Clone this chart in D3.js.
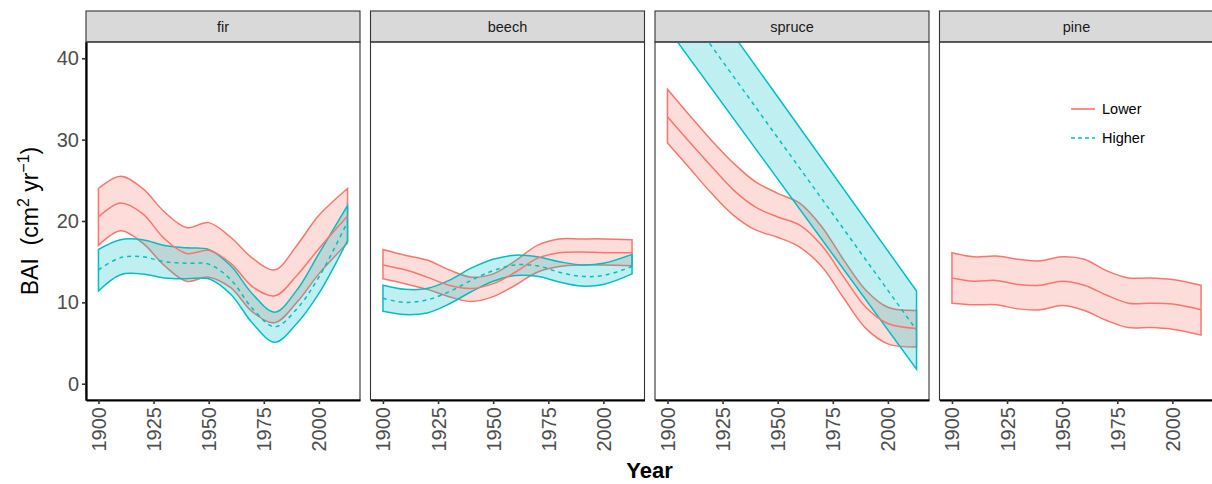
<!DOCTYPE html>
<html><head><meta charset="utf-8">
<script src="https://cdn.jsdelivr.net/npm/d3@7"></script>
<style>
html,body{margin:0;padding:0;background:#fff;}
svg{display:block;font-family:"Liberation Sans",Arial,Helvetica,sans-serif;}
</style></head>
<body>
<svg id="chart" width="1212" height="484"></svg>
<script>
// ---------------- DATA ----------------
const species = ["fir", "beech", "spruce", "pine"];
const groups = ["Lower", "Higher"];
const years = [1900, 1910, 1920, 1930, 1940, 1950, 1960, 1970, 1980, 1990, 2000, 2013];
const yTicks = [0, 10, 20, 30, 40];
const xTicks = [1900, 1925, 1950, 1975, 2000];

// fir
const firLowerMean  = [20.5, 22.2, 20.9, 17.8, 16.0, 16.4, 14.8, 11.9, 10.8, 13.3, 16.6, 20.6];
const firLowerHi    = [24.0, 25.5, 24.0, 21.1, 19.2, 19.8, 18.0, 15.4, 14.0, 17.0, 20.7, 24.0];
const firLowerLo    = [17.0, 18.8, 17.3, 14.5, 12.6, 13.1, 11.8, 8.8, 7.5, 10.0, 13.5, 17.3];
const firHigherMean = [14.0, 15.5, 15.6, 15.0, 14.8, 14.7, 12.8, 9.2, 7.0, 9.2, 13.1, 19.9];
const firHigherHi   = [16.5, 17.7, 17.7, 17.0, 16.7, 16.5, 14.5, 11.0, 8.8, 11.5, 16.0, 21.9];
const firHigherLo   = [11.4, 13.4, 13.5, 13.0, 12.9, 12.9, 11.0, 7.4, 5.1, 7.4, 11.1, 17.6];
// beech
const beechLowerMean  = [14.6, 14.0, 13.1, 12.1, 11.7, 12.3, 13.7, 15.4, 16.1, 16.2, 16.1, 16.1];
const beechLowerHi    = [16.5, 15.8, 15.2, 14.0, 13.1, 13.5, 15.1, 17.0, 17.8, 17.8, 17.8, 17.7];
const beechLowerLo    = [12.9, 12.3, 11.6, 10.7, 10.1, 10.7, 12.1, 13.7, 14.4, 14.6, 14.6, 14.5];
const beechHigherMean = [10.5, 10.0, 10.3, 11.3, 12.7, 13.9, 14.6, 14.5, 13.7, 13.2, 13.3, 14.4];
const beechHigherHi   = [12.1, 11.6, 11.7, 12.7, 14.2, 15.3, 15.8, 15.6, 15.0, 14.6, 14.8, 15.9];
const beechHigherLo   = [8.9, 8.5, 8.7, 9.8, 11.3, 12.6, 13.3, 13.2, 12.5, 12.0, 12.2, 13.5];
// spruce
const spruceLowerMean = [32.8, 29.7, 26.7, 23.8, 21.7, 20.5, 19.5, 17.0, 13.1, 9.4, 7.4, 6.8];
const spruceLowerHi   = [36.2, 33.0, 29.9, 27.1, 24.8, 23.4, 22.2, 19.3, 15.2, 11.5, 9.4, 9.0];
const spruceLowerLo   = [29.6, 26.5, 23.4, 20.7, 18.9, 18.0, 16.8, 14.4, 10.5, 6.8, 4.9, 4.5];
const spruceHigherYears = [1900, 2013];
const spruceHigherMean  = [49.0, 6.6];
const spruceHigherHi    = [54.2, 11.4];
const spruceHigherLo    = [43.7, 1.8];
// pine
const pineLowerMean = [13.0, 12.6, 12.7, 12.2, 12.1, 12.6, 12.1, 10.9, 9.9, 9.9, 9.8, 9.1];
const pineLowerHi   = [16.1, 15.6, 15.7, 15.3, 15.1, 15.6, 15.3, 13.9, 13.0, 13.0, 12.8, 12.1];
const pineLowerLo   = [9.9, 9.7, 9.7, 9.2, 9.1, 9.6, 9.0, 7.8, 6.9, 6.9, 6.7, 6.0];

function series(yrs, mean, hi, lo) {
  return yrs.map((y, i) => ({year: y, mean: mean[i], hi: hi[i], lo: lo[i]}));
}
const panelData = {
  fir:    {Lower: series(years, firLowerMean, firLowerHi, firLowerLo),
           Higher: series(years, firHigherMean, firHigherHi, firHigherLo)},
  beech:  {Lower: series(years, beechLowerMean, beechLowerHi, beechLowerLo),
           Higher: series(years, beechHigherMean, beechHigherHi, beechHigherLo)},
  spruce: {Lower: series(years, spruceLowerMean, spruceLowerHi, spruceLowerLo),
           Higher: series(spruceHigherYears, spruceHigherMean, spruceHigherHi, spruceHigherLo)},
  pine:   {Lower: series(years, pineLowerMean, pineLowerHi, pineLowerLo)}
};

// ---------------- LAYOUT ----------------
const svg = d3.select("#chart");
const colors = {Lower: "#F8766D", Higher: "#00BFC4"};
const panelTop = 42, panelBottom = 400, panelW = 274;
const stripTop = 11;
const panelLefts = [86, 370.5, 655, 939.5];

const y = d3.scaleLinear().domain([-2, 42]).range([panelBottom, panelTop]);

svg.append("defs").selectAll("clipPath").data(species).join("clipPath")
  .attr("id", d => "clip-" + d)
  .append("rect")
  .attr("x", (d, i) => panelLefts[i]).attr("y", panelTop)
  .attr("width", panelW).attr("height", panelBottom - panelTop);

species.forEach((sp, i) => {
  const left = panelLefts[i];
  const x = d3.scaleLinear().domain([1894.35, 2018.65]).range([left, left + panelW]);
  const g = svg.append("g");

  // strip
  g.append("rect").attr("x", left).attr("y", stripTop)
    .attr("width", panelW).attr("height", panelTop - stripTop)
    .attr("fill", "#d9d9d9").attr("stroke", "#333333").attr("stroke-width", 1.1);
  g.append("text").attr("x", left + panelW / 2).attr("y", (stripTop + panelTop) / 2)
    .attr("text-anchor", "middle").attr("dominant-baseline", "central")
    .attr("font-size", 14.5).attr("fill", "#1a1a1a").text(sp);

  const plot = g.append("g").attr("clip-path", `url(#clip-${sp})`);
  const area = d3.area().x(d => x(d.year)).y0(d => y(d.lo)).y1(d => y(d.hi))
    .curve(d3.curveCatmullRom);
  const line = d3.line().x(d => x(d.year)).y(d => y(d.mean)).curve(d3.curveCatmullRom);

  groups.forEach(gr => {
    const dat = panelData[sp][gr];
    if (!dat) return;
    plot.append("path").datum(dat).attr("d", area)
      .attr("fill", colors[gr]).attr("fill-opacity", 0.25).attr("stroke", "none");
    const upper = dat.map(d => [x(d.year), y(d.hi)]);
    const lower = dat.map(d => [x(d.year), y(d.lo)]).reverse();
    const upPath = d3.line().curve(d3.curveCatmullRom)(upper);
    const loPath = d3.line().curve(d3.curveCatmullRom)(lower);
    plot.append("path")
      .attr("d", upPath + "L" + loPath.slice(1) + "Z")
      .attr("fill", "none").attr("stroke", colors[gr]).attr("stroke-width", 1.5);
  });
  groups.forEach(gr => {
    const dat = panelData[sp][gr];
    if (!dat) return;
    plot.append("path").datum(dat).attr("d", line)
      .attr("fill", "none").attr("stroke", colors[gr]).attr("stroke-width", 1.5)
      .attr("stroke-dasharray", gr === "Higher" ? "4,4" : null);
  });

  // panel border
  g.append("rect").attr("x", left).attr("y", panelTop)
    .attr("width", panelW).attr("height", panelBottom - panelTop)
    .attr("fill", "none").attr("stroke", "#333333").attr("stroke-width", 1.1);

  // x axis
  const xAxis = d3.axisBottom(x).tickValues(xTicks).tickSize(4).tickSizeOuter(0)
    .tickFormat(d3.format("d"));
  const xg = g.append("g").attr("transform", `translate(0,${panelBottom})`).call(xAxis);
  xg.select(".domain").attr("stroke", "#000").attr("stroke-width", 2.2);
  xg.selectAll(".tick line").attr("stroke", "#333333").attr("stroke-width", 1.6);
  xg.selectAll(".tick text")
    .attr("font-size", 20).attr("fill", "#4d4d4d").attr("font-family", null)
    .attr("transform", "rotate(-90)")
    .attr("x", -7).attr("y", 0).attr("dy", "0.35em")
    .attr("text-anchor", "end");

  if (i === 0) {
    const yAxis = d3.axisLeft(y).tickValues(yTicks).tickSize(4).tickSizeOuter(0);
    const yg = g.append("g").attr("transform", `translate(${left},0)`).call(yAxis);
    yg.select(".domain").attr("stroke", "#000").attr("stroke-width", 2.2);
    yg.selectAll(".tick line").attr("stroke", "#333333").attr("stroke-width", 1.6);
    yg.selectAll(".tick text").attr("font-size", 20).attr("fill", "#4d4d4d")
      .attr("font-family", null).attr("x", -7);
  }
});

// axis titles
const yt = svg.append("text")
  .attr("transform", `translate(38,${(panelTop + panelBottom) / 2}) rotate(-90)`)
  .attr("text-anchor", "middle").attr("font-size", 23).attr("fill", "#000")
  .style("white-space", "pre");
yt.append("tspan").text("BAI\u00a0\u00a0(cm");
yt.append("tspan").attr("dy", -9).attr("font-size", 16).text("2");
yt.append("tspan").attr("dy", 9).text("\u00a0yr");
yt.append("tspan").attr("dy", -9).attr("font-size", 16).text("\u22121");
yt.append("tspan").attr("dy", 9).text(")");

svg.append("text").attr("x", 649.5).attr("y", 478)
  .attr("text-anchor", "middle").attr("font-size", 22).attr("font-weight", "bold")
  .attr("fill", "#000").text("Year");

// legend
const legendItems = ["Lower", "Higher"];
const lg = svg.append("g");
legendItems.forEach((gr, k) => {
  const ly = 109 + k * 29;
  lg.append("line").attr("x1", 1071).attr("x2", 1095).attr("y1", ly).attr("y2", ly)
    .attr("stroke", colors[gr]).attr("stroke-width", 1.6)
    .attr("stroke-dasharray", gr === "Higher" ? "4,3" : null);
  lg.append("text").attr("x", 1102).attr("y", ly).attr("dominant-baseline", "central")
    .attr("font-size", 14.5).attr("fill", "#000").text(gr);
});
</script>
</body></html>
